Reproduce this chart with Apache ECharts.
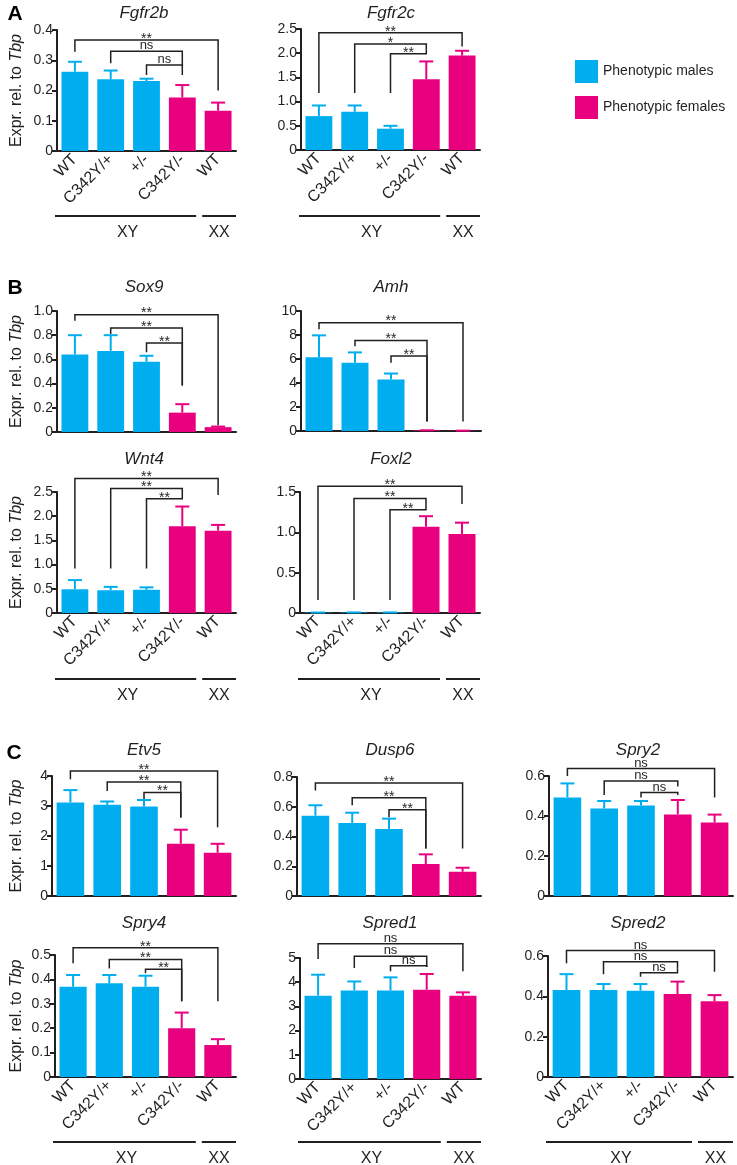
<!DOCTYPE html>
<html><head><meta charset="utf-8">
<script src="https://cdn.jsdelivr.net/npm/echarts@6/dist/echarts.min.js"></script>
<style>html,body{margin:0;padding:0;background:#fff}#c{width:737px;height:1165px}</style>
</head><body><div id="c"></div>
<script>
// ---------- data ----------
const categories = ['WT', 'C342Y/+', '+/-', 'C342Y/-', 'WT'];
const groupLabels = ['XY', 'XX'];
const legendNames = ['Phenotypic males', 'Phenotypic females'];
const yAxisName = 'Expr. rel. to ';
const yAxisNameItalic = 'Tbp';
const panelLetters = ['A', 'B', 'C'];
const geneNames = ['Fgfr2b', 'Fgfr2c', 'Sox9', 'Amh', 'Wnt4', 'Foxl2', 'Etv5', 'Dusp6', 'Spry2', 'Spry4', 'Spred1', 'Spred2'];

// y-axis max / interval / decimals per gene
const yMax =      [0.4, 2.5, 1.0, 10, 2.5, 1.5, 4, 0.8, 0.6, 0.5, 5, 0.6];
const yInterval = [0.1, 0.5, 0.2, 2, 0.5, 0.5, 1, 0.2, 0.2, 0.1, 1, 0.2];
const yDecimals = [1, 1, 1, 0, 1, 1, 0, 1, 1, 1, 0, 1];

// means and upper error bar ends (WT, C342Y/+, +/-, C342Y/-, WT XX)
const fgfr2bMean = [0.262, 0.237, 0.231, 0.177, 0.133];
const fgfr2bErr  = [0.295, 0.266, 0.239, 0.218, 0.160];
const fgfr2cMean = [0.70, 0.79, 0.44, 1.46, 1.95];
const fgfr2cErr  = [0.92, 0.92, 0.50, 1.83, 2.05];
const sox9Mean = [0.64, 0.67, 0.58, 0.16, 0.04];
const sox9Err  = [0.80, 0.80, 0.63, 0.23, 0.045];
const amhMean = [6.15, 5.68, 4.29, 0.05, 0.02];
const amhErr  = [7.97, 6.55, 4.79, 0.06, 0.03];
const wnt4Mean = [0.49, 0.47, 0.48, 1.79, 1.70];
const wnt4Err  = [0.68, 0.54, 0.53, 2.20, 1.82];
const foxl2Mean = [0.005, 0.006, 0.006, 1.07, 0.98];
const foxl2Err  = [0.006, 0.007, 0.007, 1.20, 1.12];
const etv5Mean = [3.12, 3.04, 2.98, 1.74, 1.44];
const etv5Err  = [3.53, 3.15, 3.20, 2.21, 1.74];
const dusp6Mean = [0.54, 0.49, 0.45, 0.215, 0.163];
const dusp6Err  = [0.61, 0.56, 0.52, 0.28, 0.19];
const spry2Mean = [0.493, 0.438, 0.452, 0.408, 0.367];
const spry2Err  = [0.563, 0.475, 0.475, 0.480, 0.407];
const spry4Mean = [0.370, 0.384, 0.370, 0.200, 0.131];
const spry4Err  = [0.418, 0.418, 0.415, 0.264, 0.155];
const spred1Mean = [3.44, 3.66, 3.66, 3.69, 3.44];
const spred1Err  = [4.31, 4.03, 4.20, 4.34, 3.58];
const spred2Mean = [0.431, 0.431, 0.428, 0.411, 0.376];
const spred2Err  = [0.510, 0.461, 0.461, 0.473, 0.406];

// significance brackets: [from, to, top, leftEnd, rightEnd]
const fgfr2bBr = [[0, 4, 0.367, 0.328, 0.200], [1, 3, 0.330, 0.290, 0.280], [2, 3, 0.284, 0.251, 0.251]];
const fgfr2bSig = ['**', 'ns', 'ns'];
const fgfr2cBr = [[0, 4, 2.42, 1.18, 2.14], [1, 3, 2.19, 1.18, 2.07], [2, 3, 1.99, 1.18, 2.07]];
const fgfr2cSig = ['**', '*', '**'];
const sox9Br = [[0, 4, 0.97, 0.92, 0.055], [1, 3, 0.86, 0.81, 0.385], [2, 3, 0.735, 0.66, 0.385]];
const sox9Sig = ['**', '**', '**'];
const amhBr = [[0, 4, 9.03, 8.47, 0.8], [1, 3, 7.55, 7.07, 0.8], [2, 3, 6.24, 5.68, 0.8]];
const amhSig = ['**', '**', '**'];
const wnt4Br = [[0, 4, 2.78, 0.92, 2.44], [1, 3, 2.57, 0.92, 2.48], [2, 3, 2.36, 0.92, 2.48]];
const wnt4Sig = ['**', '**', '**'];
const foxl2Br = [[0, 4, 1.57, 0.16, 1.35], [1, 3, 1.42, 0.16, 1.35], [2, 3, 1.28, 0.16, 1.35]];
const foxl2Sig = ['**', '**', '**'];
const etv5Br = [[0, 4, 4.17, 3.89, 2.29], [1, 3, 3.80, 3.50, 2.62], [2, 3, 3.45, 3.23, 2.62]];
const etv5Sig = ['**', '**', '**'];
const dusp6Br = [[0, 4, 0.76, 0.71, 0.32], [1, 3, 0.66, 0.61, 0.32], [2, 3, 0.58, 0.53, 0.32]];
const dusp6Sig = ['**', '**', '**'];
const spry2Br = [[0, 4, 0.637, 0.600, 0.493], [1, 3, 0.575, 0.505, 0.547], [2, 3, 0.517, 0.493, 0.505]];
const spry2Sig = ['ns', 'ns', 'ns'];
const spry4Br = [[0, 4, 0.530, 0.466, 0.310], [1, 3, 0.482, 0.445, 0.310], [2, 3, 0.442, 0.425, 0.310]];
const spry4Sig = ['**', '**', '**'];
const spred1Br = [[0, 4, 5.59, 4.96, 4.45], [1, 3, 5.07, 4.59, 4.63], [2, 3, 4.68, 4.45, 4.63]];
const spred1Sig = ['ns', 'ns', 'ns'];
const spred2Br = [[0, 4, 0.627, 0.564, 0.522], [1, 3, 0.572, 0.510, 0.539], [2, 3, 0.517, 0.497, 0.539]];
const spred2Sig = ['ns', 'ns', 'ns'];

// ---------- layout / style ----------
const BLUE = '#00aeef', PINK = '#e8007f', INK = '#231f20';
const FONT = '"Liberation Sans", Arial, Helvetica, sans-serif';
// [left, top, width, height, col, groupLineY (0 = none)]
const layout = [
  [57, 30, 179, 121, 0, 216], [301, 29, 179, 121, 1, 216],
  [57, 311, 179, 121, 0, 0], [301, 311, 180, 120, 1, 0],
  [57, 492, 179, 121, 0, 679], [300, 492, 180, 121, 1, 679],
  [52, 776, 184, 120, 0, 0], [297, 777, 184, 119, 1, 0], [549, 776, 184, 120, 2, 0],
  [55, 955, 181, 122, 0, 1142], [300, 958, 181, 121, 1, 1142], [548, 956, 185, 121, 2, 1142]
];
const titlePos = [[144, 13], [391, 13], [144, 287], [391, 287], [144, 459], [391, 459],
                  [144, 750], [390, 750], [638, 750], [144, 923], [390, 923], [638, 923]];
const letterPos = [[15, 14], [15, 288], [14, 753]];

const means = [fgfr2bMean, fgfr2cMean, sox9Mean, amhMean, wnt4Mean, foxl2Mean, etv5Mean, dusp6Mean, spry2Mean, spry4Mean, spred1Mean, spred2Mean];
const errs = [fgfr2bErr, fgfr2cErr, sox9Err, amhErr, wnt4Err, foxl2Err, etv5Err, dusp6Err, spry2Err, spry4Err, spred1Err, spred2Err];
const brs = [fgfr2bBr, fgfr2cBr, sox9Br, amhBr, wnt4Br, foxl2Br, etv5Br, dusp6Br, spry2Br, spry4Br, spred1Br, spred2Br];
const sigs = [fgfr2bSig, fgfr2cSig, sox9Sig, amhSig, wnt4Sig, foxl2Sig, etv5Sig, dusp6Sig, spry2Sig, spry4Sig, spred1Sig, spred2Sig];

const grids = [], xAxes = [], yAxes = [], series = [], graphics = [];

function bracketRender(labels) {
  return function (params, api) {
    const i0 = api.value(0), i1 = api.value(1), yt = api.value(2), yl = api.value(3), yr = api.value(4);
    const pL = api.coord([i0, yl]), p0 = api.coord([i0, yt]), p1 = api.coord([i1, yt]), pR = api.coord([i1, yr]);
    const lab = labels[params.dataIndex];
    const star = lab.indexOf('*') >= 0;
    return {
      type: 'group', children: [
        { type: 'polyline', shape: { points: [pL, p0, p1, pR] }, style: { stroke: INK, lineWidth: 1.5, fill: 'none' } },
        { type: 'text', style: { text: lab, x: (p0[0] + p1[0]) / 2, y: p0[1] + (star ? 6 : 1), align: 'center', verticalAlign: 'bottom',
          font: (star ? '14px ' : '13px ') + FONT, fill: INK } }
      ]
    };
  };
}
function errRender(params, api) {
  const i = api.value(0), m = api.value(1), t = api.value(2);
  const a = api.coord([i, m]), b = api.coord([i, t]);
  const c = i < 3 ? BLUE : PINK;
  return {
    type: 'group', children: [
      { type: 'line', shape: { x1: a[0], y1: a[1], x2: b[0], y2: b[1] }, style: { stroke: c, lineWidth: 2 } },
      { type: 'line', shape: { x1: b[0] - 7, y1: b[1], x2: b[0] + 7, y2: b[1] }, style: { stroke: c, lineWidth: 2 } }
    ]
  };
}

layout.forEach((L, k) => {
  const [left, top, width, height, col, ly] = L;
  const bottomRow = ly > 0;
  grids.push({ left: left, top: top, width: width, height: height, containLabel: false, outerBoundsMode: 'none' });
  xAxes.push({
    type: 'category', gridIndex: k, data: categories,
    axisLine: { lineStyle: { color: INK, width: 2 } },
    axisTick: { alignWithLabel: true, length: 5, lineStyle: { color: INK, width: 2 } },
    axisLabel: { show: bottomRow, rotate: 45, interval: 0, fontSize: 16, color: INK, margin: 6, fontFamily: FONT }
  });
  const dec = yDecimals[k];
  const y = {
    type: 'value', gridIndex: k, min: 0, max: yMax[k], interval: yInterval[k],
    axisLine: { show: true, lineStyle: { color: INK, width: 2 } },
    axisTick: { show: true, length: 5, lineStyle: { color: INK, width: 2 } },
    splitLine: { show: false },
    axisLabel: { fontSize: 14, color: INK, margin: 4, fontFamily: FONT,
      formatter: v => (Math.abs(v) < 1e-9 ? '0' : v.toFixed(dec)) }
  };
  if (col === 0) {
    y.name = '{n|' + yAxisName + '}{i|' + yAxisNameItalic + '}';
    y.nameLocation = 'middle';
    y.nameRotate = 90;
    y.nameGap = left - 25;
    y.nameTextStyle = { rich: { n: { fontSize: 16, color: INK, fontFamily: FONT }, i: { fontSize: 16, color: INK, fontFamily: FONT, fontStyle: 'italic' } } };
  }
  yAxes.push(y);
  const m = means[k], e = errs[k];
  series.push({ name: legendNames[0], type: 'bar', xAxisIndex: k, yAxisIndex: k, barWidth: '75%', barGap: '-100%',
    itemStyle: { color: BLUE }, data: m.map((v, i) => (i < 3 ? v : '-')), silent: true, z: 2 });
  series.push({ name: legendNames[1], type: 'bar', xAxisIndex: k, yAxisIndex: k, barWidth: '75%', barGap: '-100%',
    itemStyle: { color: PINK }, data: m.map((v, i) => (i >= 3 ? v : '-')), silent: true, z: 2 });
  series.push({ type: 'custom', xAxisIndex: k, yAxisIndex: k, renderItem: errRender, z: 3, silent: true,
    data: m.map((v, i) => [i, v, e[i]]) });
  series.push({ type: 'custom', xAxisIndex: k, yAxisIndex: k, renderItem: bracketRender(sigs[k]), z: 4, silent: true, clip: false,
    data: brs[k] });
  graphics.push({ type: 'text', x: titlePos[k][0], y: titlePos[k][1],
    style: { text: geneNames[k], align: 'center', verticalAlign: 'middle', font: 'italic 17px ' + FONT, fill: INK } });
  if (bottomRow) {
    const band = width / categories.length;
    const xyL = left - 2, xyR = left + 4 * band - 4, xxL = left + 4 * band + 2, xxR = left + width;
    graphics.push({ type: 'line', shape: { x1: xyL, y1: ly, x2: xyR, y2: ly }, style: { stroke: INK, lineWidth: 2 } });
    graphics.push({ type: 'line', shape: { x1: xxL, y1: ly, x2: xxR, y2: ly }, style: { stroke: INK, lineWidth: 2 } });
    graphics.push({ type: 'text', x: (xyL + xyR) / 2 + 2, y: ly + 17, style: { text: groupLabels[0], align: 'center', verticalAlign: 'middle', font: '16px ' + FONT, fill: INK } });
    graphics.push({ type: 'text', x: (xxL + xxR) / 2, y: ly + 17, style: { text: groupLabels[1], align: 'center', verticalAlign: 'middle', font: '16px ' + FONT, fill: INK } });
  }
});
panelLetters.forEach((t, i) => {
  graphics.push({ type: 'text', x: letterPos[i][0], y: letterPos[i][1],
    style: { text: t, align: 'center', verticalAlign: 'middle', font: 'bold 21px ' + FONT, fill: '#000' } });
});

const chart = echarts.init(document.getElementById('c'), null, { renderer: 'canvas' });
chart.setOption({
  animation: false,
  backgroundColor: '#fff',
  legend: {
    data: legendNames, orient: 'vertical', left: 575, top: 60, itemWidth: 23, itemHeight: 23, itemGap: 13,
    icon: 'rect', padding: 0, selectedMode: false,
    textStyle: { fontSize: 14, color: INK, fontFamily: FONT }
  },
  grid: grids, xAxis: xAxes, yAxis: yAxes, series: series, graphic: graphics
});
</script></body></html>
